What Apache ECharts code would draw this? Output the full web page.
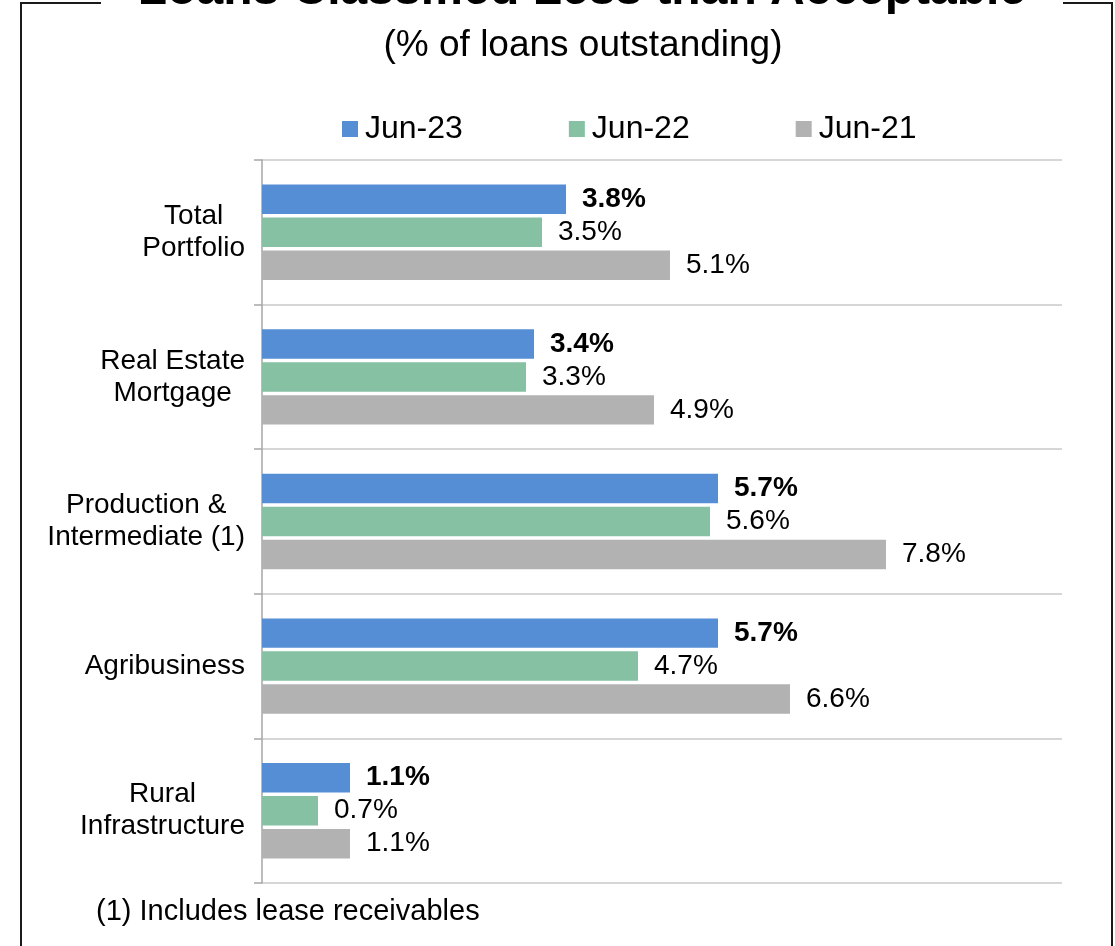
<!DOCTYPE html>
<html>
<head>
<meta charset="utf-8">
<script src="https://cdn.jsdelivr.net/npm/echarts@6/dist/echarts.min.js"></script>
<style>
  html, body { margin: 0; padding: 0; background: #fff; }
  #chart { width: 1115px; height: 946px; }
</style>
</head>
<body>
<div id="chart"></div>
<script>
// Loan categories, top to bottom
const categories = [
  'Total\nPortfolio',
  'Real Estate\nMortgage',
  'Production &\nIntermediate (1)',
  'Agribusiness',
  'Rural\nInfrastructure'
];
// % of loans outstanding classified less than acceptable
const seriesNames = ['Jun-23', 'Jun-22', 'Jun-21'];
const jun23 = [3.8, 3.4, 5.7, 5.7, 1.1];
const jun22 = [3.5, 3.3, 5.6, 4.7, 0.7];
const jun21 = [5.1, 4.9, 7.8, 6.6, 1.1];

const titleText = 'Loans Classified Less than Acceptable';
const subtitleText = '(% of loans outstanding)';
const footnoteText = '(1) Includes lease receivables';

const FONT = 'Arial, "Liberation Sans", sans-serif';
const colors = ['#558ED5', '#86C1A4', '#B2B2B2'];

const chart = echarts.init(document.getElementById('chart'), null, { renderer: 'canvas' });

function barSeries(name, data, color, bold) {
  return {
    name: name,
    type: 'bar',
    data: data,
    barGap: '12%',
    barCategoryGap: '34%',
    itemStyle: { color: color },
    label: {
      show: true,
      position: 'right',
      distance: 16,
      formatter: p => p.value.toFixed(1) + '%',
      fontFamily: FONT,
      fontSize: 28,
      fontWeight: bold ? 'bold' : 'normal',
      color: '#000'
    }
  };
}

chart.setOption({
  animation: false,
  backgroundColor: '#fff',
  textStyle: { fontFamily: FONT },
  legend: {
    data: seriesNames,
    top: 108,
    left: 337,
    itemWidth: 16,
    itemHeight: 16,
    itemGap: 106,
    icon: 'rect',
    textStyle: { fontFamily: FONT, fontSize: 32, color: '#000', padding: [0, 0, 0, 2] }
  },
  grid: { left: 262, top: 160, right: 53, bottom: 63, containLabel: false },
  xAxis: {
    type: 'value',
    min: 0,
    max: 10,
    show: false,
    splitLine: { show: false }
  },
  yAxis: {
    type: 'category',
    data: categories,
    inverse: true,
    axisLine: { show: true, lineStyle: { color: '#A6A6A6', width: 1.5 } },
    axisTick: { show: true, length: 8, lineStyle: { color: '#A6A6A6', width: 1.5 } },
    splitLine: { show: true, lineStyle: { color: '#C9C9C9', width: 1.5 } },
    axisLabel: {
      margin: 17,
      align: 'right',
      formatter: v => v.split('\n').map(s => '{c|' + s + '}').join('\n'),
      rich: {
        c: { align: 'center', fontFamily: FONT, fontSize: 28, lineHeight: 32, color: '#000' }
      }
    }
  },
  series: [
    barSeries(seriesNames[0], jun23, colors[0], true),
    barSeries(seriesNames[1], jun22, colors[1], false),
    barSeries(seriesNames[2], jun21, colors[2], false)
  ],
  graphic: [
    // frame around the chart, broken at the top by the title
    { type: 'polyline', silent: true,
      shape: { points: [[101, 3], [21, 3], [21, 946]] },
      style: { stroke: '#1a1a1a', lineWidth: 2, fill: null } },
    { type: 'polyline', silent: true,
      shape: { points: [[1063, 3], [1112, 3], [1112, 946]] },
      style: { stroke: '#1a1a1a', lineWidth: 2, fill: null } },
    { type: 'text', silent: true, x: 582, y: 15,
      style: { text: titleText, font: 'bold 48px ' + FONT, fill: '#000',
               align: 'center', verticalAlign: 'bottom' } },
    { type: 'text', silent: true, x: 583, y: 46,
      style: { text: subtitleText, font: '37px ' + FONT, fill: '#000',
               align: 'center', verticalAlign: 'middle' } },
    { type: 'text', silent: true, x: 96, y: 912,
      style: { text: footnoteText, font: '29px ' + FONT, fill: '#000',
               align: 'left', verticalAlign: 'middle' } }
  ]
});
</script>
</body>
</html>
